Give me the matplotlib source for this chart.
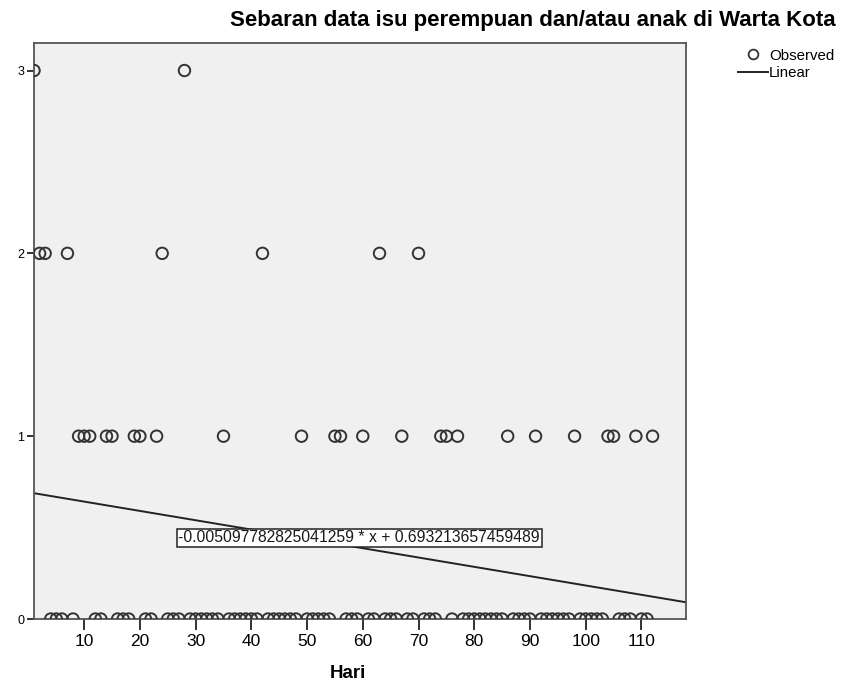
import numpy as np
import matplotlib
matplotlib.use("Agg")
import matplotlib.pyplot as plt
from matplotlib.lines import Line2D
from matplotlib.path import Path

plt.rcParams['font.family'] = ['Liberation Sans', 'DejaVu Sans']

# days 1..112, count of news items per day
days = list(range(1, 113))
nonzero = {
    1: 3, 2: 2, 3: 2, 7: 2, 9: 1, 10: 1, 11: 1, 14: 1, 15: 1, 19: 1, 20: 1,
    23: 1, 24: 2, 28: 3, 35: 1, 42: 2, 49: 1, 55: 1, 56: 1, 60: 1, 63: 2,
    67: 1, 70: 2, 74: 1, 75: 1, 77: 1, 86: 1, 91: 1, 98: 1, 104: 1, 105: 1,
    109: 1, 112: 1,
}
counts = [nonzero.get(d, 0) for d in days]

# linear fit as reported in the chart
slope = -0.005097782825041259
intercept = 0.693213657459489
fit_label = "-0.005097782825041259 * x + 0.693213657459489"

x_ticks = [10, 20, 30, 40, 50, 60, 70, 80, 90, 100, 110]
y_ticks = [0, 1, 2, 3]

fig = plt.figure(figsize=(8.44, 6.84), dpi=100)
ax = fig.add_axes([0.0403, 0.095, 0.7725, 0.842])
ax.set_facecolor('#f0f0f0')

# circles on the edges get cut by the axis like the original
sc = ax.scatter(days, counts, s=68, facecolors='none', edgecolors='#333333',
                linewidths=1.4, zorder=3)
box = Path([(0, 0), (1, 0), (1, 1), (0, 1), (0, 0)])
sc.set_clip_path(box, ax.transAxes)

xl = np.array([1, 118])
ax.plot(xl, slope * xl + intercept, color='#222222', linewidth=1.4, zorder=2)

ax.text(26.9, 0.445, fit_label, fontsize=11.3, va='center', ha='left',
        color='#1a1a1a', zorder=4,
        bbox=dict(boxstyle='square,pad=0.1', facecolor='white',
                  edgecolor='#222222', linewidth=1.1))

ax.set_xlim(1, 118)
ax.set_ylim(0, 3.15)
ax.set_xticks(x_ticks)
ax.set_yticks(y_ticks)
ax.tick_params(axis='x', direction='out', length=8, width=1.4, color='#333333',
               labelsize=12.5, pad=3)
ax.tick_params(axis='y', direction='out', length=5, width=1.4, color='#333333',
               labelsize=9, pad=2)
for s in ax.spines.values():
    s.set_color('#555555')
    s.set_linewidth(1.3)

ax.set_xlabel('Hari', fontsize=13.5, fontweight='bold')
ax.xaxis.set_label_coords(0.481, -0.079)

fig.text(0.99, 0.970, 'Sebaran data isu perempuan dan/atau anak di Warta Kota',
         ha='right', va='center', fontsize=16, fontweight='bold')

handles = [
    Line2D([], [], linestyle='none', marker='o', markersize=7,
           markerfacecolor='none', markeredgecolor='#333333', markeredgewidth=1.3),
    Line2D([], [], color='#222222', linewidth=1.4),
]
fig.legend(handles, ['Observed', 'Linear'], loc='upper left',
           bbox_to_anchor=(0.874, 0.929), frameon=False, fontsize=10.8,
           handlelength=2.0, handletextpad=0.1, labelspacing=0.25,
           borderpad=0.0, borderaxespad=0.0)

fig.savefig('out.png', dpi=100)
